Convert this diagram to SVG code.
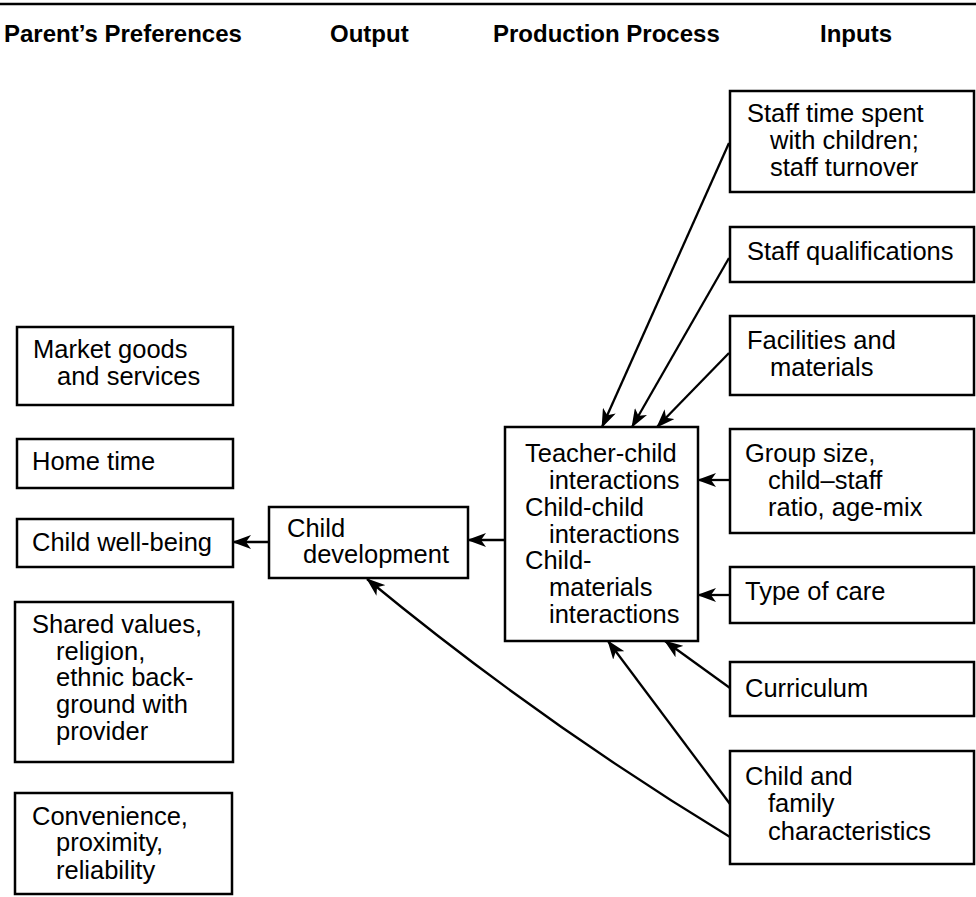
<svg xmlns="http://www.w3.org/2000/svg" width="976" height="897" viewBox="0 0 976 897">
<style>
.box{fill:#fff;stroke:#000;stroke-width:2.5}
.t{font-family:"Liberation Sans",Arial,sans-serif;font-size:25.5px;fill:#000}
.h{font-family:"Liberation Sans",Arial,sans-serif;font-size:24px;font-weight:bold;fill:#000}
.c{fill:none;stroke:#000;stroke-width:2.3}
</style>
<defs>
<marker id="ah" markerUnits="userSpaceOnUse" markerWidth="19" markerHeight="14" refX="18" refY="7" orient="auto">
<path d="M0,0 L19,7 L0,14 L5,7 z" fill="#000"/>
</marker>
</defs>
<rect width="976" height="897" fill="#fff"/>
<line x1="0" y1="4" x2="976" y2="4" stroke="#000" stroke-width="2.5"/>
<g id="headers">
<text class="h" x="4" y="42">Parent’s Preferences</text>
<text class="h" x="330" y="42">Output</text>
<text class="h" x="493" y="42">Production Process</text>
<text class="h" x="820" y="42">Inputs</text>
</g>
<g id="connectors">
<line class="c" x1="729" y1="143" x2="602" y2="427" marker-end="url(#ah)"/>
<line class="c" x1="729" y1="258" x2="632" y2="427" marker-end="url(#ah)"/>
<line class="c" x1="729" y1="353" x2="657" y2="427" marker-end="url(#ah)"/>
<line class="c" x1="730" y1="480" x2="698" y2="480" marker-end="url(#ah)"/>
<line class="c" x1="730" y1="595" x2="698" y2="595" marker-end="url(#ah)"/>
<line class="c" x1="730" y1="688" x2="665" y2="641" marker-end="url(#ah)"/>
<line class="c" x1="730" y1="804" x2="608" y2="641" marker-end="url(#ah)"/>
<path class="c" d="M730,837 Q539,721 367,579" marker-end="url(#ah)"/>
<line class="c" x1="505" y1="540" x2="468" y2="540" marker-end="url(#ah)"/>
<line class="c" x1="269" y1="542" x2="233" y2="542" marker-end="url(#ah)"/>
</g>
<g id="staff-time">
<rect class="box" x="730" y="91" width="244" height="101"/>
<text class="t" x="747" y="122">Staff time spent</text>
<text class="t" x="770" y="149">with children;</text>
<text class="t" x="770" y="176">staff turnover</text>
</g>
<g id="staff-qualifications">
<rect class="box" x="730" y="227" width="244" height="55"/>
<text class="t" x="747" y="260">Staff qualifications</text>
</g>
<g id="facilities">
<rect class="box" x="730" y="316" width="244" height="79"/>
<text class="t" x="747" y="349">Facilities and</text>
<text class="t" x="770" y="376">materials</text>
</g>
<g id="group-size">
<rect class="box" x="730" y="429" width="244" height="104"/>
<text class="t" x="745" y="462">Group size,</text>
<text class="t" x="768" y="489">child–staff</text>
<text class="t" x="768" y="516">ratio, age-mix</text>
</g>
<g id="type-of-care">
<rect class="box" x="730" y="567" width="244" height="56"/>
<text class="t" x="745" y="600">Type of care</text>
</g>
<g id="curriculum">
<rect class="box" x="730" y="662" width="244" height="54"/>
<text class="t" x="745" y="697">Curriculum</text>
</g>
<g id="child-family">
<rect class="box" x="730" y="751" width="244" height="113"/>
<text class="t" x="745" y="785">Child and</text>
<text class="t" x="768" y="812">family</text>
<text class="t" x="768" y="840">characteristics</text>
</g>
<g id="interactions">
<rect class="box" x="505" y="427" width="193" height="214"/>
<text class="t" x="525" y="462">Teacher-child</text>
<text class="t" x="549" y="489">interactions</text>
<text class="t" x="525" y="516">Child-child</text>
<text class="t" x="549" y="543">interactions</text>
<text class="t" x="525" y="569">Child-</text>
<text class="t" x="549" y="596">materials</text>
<text class="t" x="549" y="623">interactions</text>
</g>
<g id="child-development">
<rect class="box" x="269" y="507" width="199" height="71"/>
<text class="t" x="287" y="537">Child</text>
<text class="t" x="303" y="563">development</text>
</g>
<g id="market-goods">
<rect class="box" x="17" y="327" width="216" height="78"/>
<text class="t" x="33" y="358">Market goods</text>
<text class="t" x="57" y="385">and services</text>
</g>
<g id="home-time">
<rect class="box" x="17" y="439" width="216" height="49"/>
<text class="t" x="32" y="470">Home time</text>
</g>
<g id="child-well-being">
<rect class="box" x="17" y="519" width="216" height="48"/>
<text class="t" x="32" y="551">Child well-being</text>
</g>
<g id="shared-values">
<rect class="box" x="15" y="602" width="218" height="160"/>
<text class="t" x="32" y="633">Shared values,</text>
<text class="t" x="56" y="660">religion,</text>
<text class="t" x="56" y="686">ethnic back-</text>
<text class="t" x="56" y="713">ground with</text>
<text class="t" x="56" y="740">provider</text>
</g>
<g id="convenience">
<rect class="box" x="15" y="793" width="217" height="101"/>
<text class="t" x="32" y="825">Convenience,</text>
<text class="t" x="56" y="851">proximity,</text>
<text class="t" x="56" y="879">reliability</text>
</g>
</svg>
